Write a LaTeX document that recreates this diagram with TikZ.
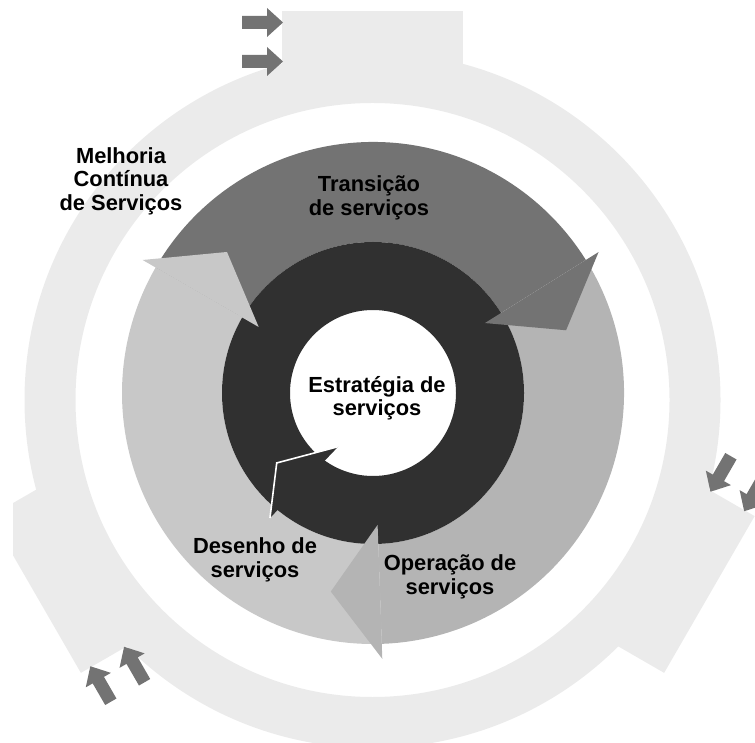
\documentclass[tikz,border=0pt]{standalone}
\usepackage{fontspec}
\setmainfont{Liberation Sans}

\definecolor{ringc}{HTML}{EBEBEB}
\definecolor{transc}{HTML}{737373}
\definecolor{operc}{HTML}{B4B4B4}
\definecolor{desc}{HTML}{C8C8C8}
\definecolor{darkc}{HTML}{303030}
\definecolor{arrc}{HTML}{737373}

\tikzset{
  lbl/.style={font=\fontsize{16.4}{17.6}\selectfont\bfseries, align=center, text=black, inner sep=0pt},
  smallarr/.style={fill=arrc},
}

\begin{document}
\begin{tikzpicture}[x=0.75pt,y=0.75pt]

 \useasboundingbox (0,0) rectangle (755,742);
 \clip (13,0) rectangle (755,742);

 \def\ra{348}
 \def\rb{297}
 \def\rc{251}
 \def\rd{151}
 \def\re{83}

	%outer ring with tabs
 \begin{scope}[shift={(372.5,342)}]
   \fill[ringc, even odd rule] (0,0) circle (\ra) (0,0) circle (\rb);
    \foreach \r in {0,-120,120}{
      \begin{scope}[rotate=\r]
        \fill[ringc] (-90.5,320) rectangle (90.5,389);
        \foreach \ty in {377.5,338.5}{
           \fill[smallarr] (-89.5,\ty) -- ++(-16,14.5) -- ++(0,-8) -- ++(-25,0) -- ++(0,-13) -- ++(25,0) -- ++(0,-8) -- cycle;
        }
      \end{scope}
    }
 \end{scope}

	%middle ring and core
 \begin{scope}[shift={(373,349)}]
    \foreach \s/\e/\col in {150/32/transc, 32/-88/operc, -88/-210/desc}{
       \fill[\col] (\s:\rc) arc[start angle=\s, end angle=\e, radius=\rc] -- (\e:\rd) arc[start angle=\e, end angle=\s, radius=\rd] -- cycle;
    }

   \fill[darkc, even odd rule] (0,0) circle (\rd) (0,0) circle (\re);

    \foreach \e/\col in {32/transc, -88/operc, -210/desc}{
       \fill[\col] (\e:132) -- ({\e-14}:203) -- (\e:266) -- cycle;
    }

   %head of the core arrow
   \fill[darkc] (237:64) -- (216:119) -- (230.5:162) -- cycle;
   \draw[white, line width=1.2pt] (237:64) -- (216:119) -- (230.5:162);
 \end{scope}

	%labels
 \node[lbl] (melhoria) at (121,561) {Melhoria\\Contínua\\de Serviços};
 \node[lbl] (transicao) at (369,544) {Transição\\de serviços};
 \node[lbl] (estrategia) at (377,344) {Estratégia de\\serviços};
 \node[lbl] (desenho) at (255,182) {Desenho de\\serviços};
 \node[lbl] (operacao) at (450,165) {Operação de\\serviços};

\end{tikzpicture}
\end{document}
